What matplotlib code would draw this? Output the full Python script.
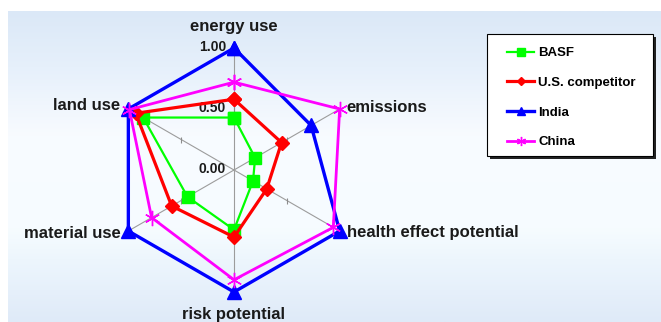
import numpy as np
import matplotlib.pyplot as plt
from matplotlib.colors import LinearSegmentedColormap
from matplotlib.patches import Rectangle
from matplotlib.lines import Line2D

plt.rcParams['font.family'] = ['Liberation Sans', 'DejaVu Sans']
plt.rcParams['font.weight'] = 'bold'

# eco-efficiency profile, normalised 0..1
categories = ["energy use", "emissions", "health effect potential",
              "risk potential", "material use", "land use"]
basf = [0.43, 0.20, 0.18, 0.49, 0.44, 0.86]
us_competitor = [0.58, 0.45, 0.31, 0.55, 0.59, 0.93]
india = [1.00, 0.73, 1.00, 1.00, 1.00, 1.00]
china = [0.72, 1.00, 0.94, 0.90, 0.78, 0.99]
series_names = ["BASF", "U.S. competitor", "India", "China"]
tick_values = [0.0, 0.5, 1.0]
tick_labels = ["0.00", "0.50", "1.00"]

W, H = 661, 322
fig = plt.figure(figsize=(W / 100, H / 100), dpi=100)
fig.patch.set_facecolor("white")

# slide background: soft blue gradient
bg = fig.add_axes([8 / W, 0, 1 - 8 / W, (H - 11) / H])
cmap = LinearSegmentedColormap.from_list("slide", [
    (0.00, "#dbe8f7"), (0.18, "#e6f0fb"), (0.40, "#f8fbff"),
    (0.70, "#f6fcff"), (0.80, "#edf6fd"), (1.00, "#dfeaf8")])
grad = np.linspace(0, 1, 256).reshape(-1, 1)
bg.imshow(grad, aspect="auto", cmap=cmap, extent=[0, 1, 0, 1], origin="upper")
bg.axis("off")

# radar axes
cx, cy, R = 234, H - 170, 122
ax = fig.add_axes([(cx - R) / W, (cy - R) / H, 2 * R / W, 2 * R / H],
                  projection="polar")
ax.set_theta_offset(np.pi / 2)
ax.set_theta_direction(-1)
ax.set_ylim(0, 1)
ax.set_facecolor("none")
ax.grid(False)
ax.spines["polar"].set_visible(False)
ax.set_xticks([])
ax.set_yticks([])

n = len(categories)
theta = np.arange(n) * 2 * np.pi / n

# spokes with a small vertical tick at mid-scale
for t in theta:
    ax.plot([t, t], [0, 1], color="#9c9c9c", lw=0.8, zorder=1, clip_on=False)
    ax.plot([t], [0.5], marker="|", ms=5, mew=0.8, color="#8c8c8c",
            zorder=1, clip_on=False)

for v, lab in zip(tick_values, tick_labels):
    ax.annotate(lab, xy=(0, v), xytext=(-8, 1), textcoords="offset pixels",
                ha="right", va="center", fontsize=10, color="#1a1a1a")

styles = [
    dict(color="#00ff00", lw=1.6, marker="s", ms=8.5),
    dict(color="#ff0000", lw=2.3, marker="D", ms=7.5),
    dict(color="#0000ff", lw=2.4, marker="^", ms=10),
    dict(color="#ff00ff", lw=2.0, marker=(6, 2, 0), ms=11, mew=1.0),
]
data = [basf, us_competitor, india, china]
for vals, st, name in zip(data, styles, series_names):
    tt = np.append(theta, theta[0])
    vv = np.append(vals, vals[0])
    ax.plot(tt, vv, label=name, clip_on=False, zorder=3,
            markeredgecolor=st["color"], **st)

# category labels at the spoke ends
label_pos = [(0, 22, "center"), (7, 2, "left"), (7, -2, "left"),
             (0, -22, "center"), (-8, -2, "right"), (-8, 3, "right")]
for t, lab, (dx, dy, ha) in zip(theta, categories, label_pos):
    ax.annotate(lab, xy=(t, 1.0), xytext=(dx, dy), textcoords="offset pixels",
                ha=ha, va="center", fontsize=12, color="#1a1a1a")

# legend box with hard drop shadow
x0, y0, x1, y1 = 487, 34, 653, 156
fig.patches.append(Rectangle(((x0 + 3) / W, 1 - (y1 + 3) / H), (x1 - x0) / W,
                             (y1 - y0) / H, transform=fig.transFigure,
                             facecolor="#222222", edgecolor="none", zorder=5))
fig.patches.append(Rectangle((x0 / W, 1 - y1 / H), (x1 - x0) / W, (y1 - y0) / H,
                             transform=fig.transFigure, facecolor="white",
                             edgecolor="black", lw=0.8, zorder=6))
handles = [Line2D([], [], color=st["color"], lw=st["lw"], marker=st["marker"],
                  ms=st["ms"] * 0.6, markeredgecolor=st["color"],
                  mew=st.get("mew", 1.0))
           for st in styles]
leg = fig.legend(handles, series_names, loc="upper left",
                 bbox_to_anchor=(507 / W, 1 - 47 / H), frameon=False,
                 fontsize=9.5, handlelength=2.05, handletextpad=0.3,
                 labelspacing=1.32, borderpad=0, borderaxespad=0)
leg.set_zorder(7)

fig.savefig("out.png", dpi=100)
